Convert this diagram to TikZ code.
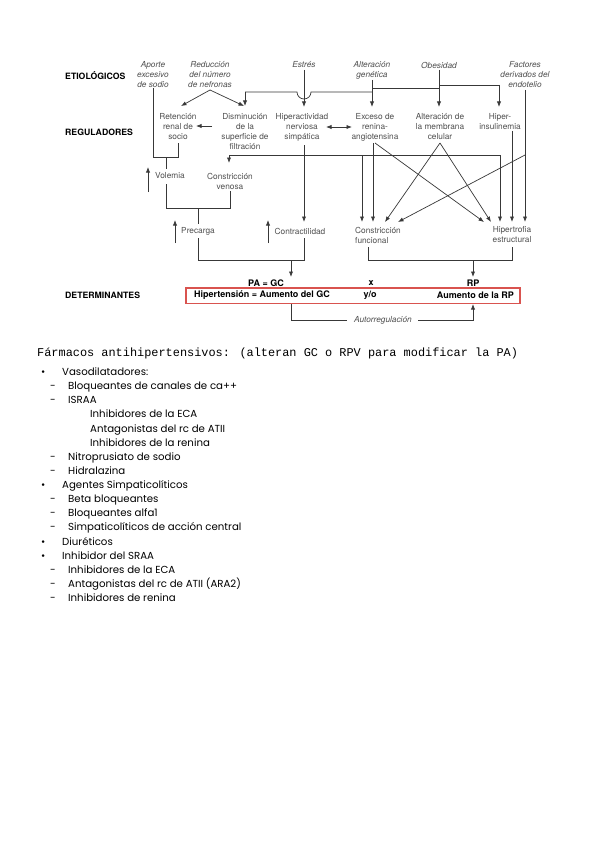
\documentclass[tikz,border=0pt]{standalone}
\usepackage{fontspec}
\setmainfont{TeX Gyre Heros}
\newfontfamily\listfont{Poppins}
\newfontfamily\monofont{Liberation Mono}
\usetikzlibrary{arrows.meta}
\definecolor{txtgray}{HTML}{505050}
\definecolor{linegray}{HTML}{383838}
\definecolor{boxred}{HTML}{D9534F}
\begin{document}
\begin{tikzpicture}[x=1pt,y=-1pt,
  lbl/.style={font=\fontsize{8.3}{10}\selectfont, text=txtgray, align=center, inner sep=0pt},
  eti/.style={font=\fontsize{8.3}{10}\selectfont\itshape, text=txtgray, align=center, inner sep=0pt},
  head/.style={font=\fontsize{8.7}{10}\selectfont\bfseries, anchor=west, inner sep=0pt},
  det/.style={font=\fontsize{9}{10}\selectfont\bfseries, inner sep=0pt},
  ln/.style={draw=linegray, line width=0.7pt},
  arr/.style={ln, -{Latex[length=5.5pt,width=4.2pt]}},
  darr/.style={ln, {Latex[length=5.5pt,width=4.2pt]}-{Latex[length=5.5pt,width=4.2pt]}},
  li/.style={font=\listfont\fontsize{10.2}{12}\selectfont, anchor=west, inner sep=0pt, text height=7.5pt, text depth=2.5pt}
]
\fill[white] (0,0) rectangle (599,848);
\useasboundingbox (0,0) rectangle (599,848);

% headings
\node[head] (hEt) at (65,76) {ETIOLÓGICOS};
\node[head] (hReg) at (65,132) {REGULADORES};
\node[head] (hDet) at (65,295) {DETERMINANTES};

% etiological
\node[eti] (aporte) at (153,75) {Aporte\\excesivo\\de sodio};
\node[eti] (reduc) at (210,75) {Reducción\\del número\\de nefronas};
\node[eti] (estres) at (304,65) {Estrés};
\node[eti] (altgen) at (372,70) {Alteración\\genética};
\node[eti] (obes) at (439,65) {Obesidad};
\node[eti] (endot) at (525,75) {Factores\\derivados del\\endotelio};

% regulators
\node[lbl] (ret) at (178,127) {Retención\\renal de\\socio};
\node[lbl] (dism) at (245,132) {Disminución\\de la\\superficie de\\filtración};
\node[lbl] (hiper) at (302,127) {Hiperactividad\\nerviosa\\simpática};
\node[lbl] (exceso) at (375,127) {Exceso de\\renina-\\angiotensina};
\node[lbl] (altmem) at (440,127) {Alteración de\\la membrana\\celular};
\node[lbl] (hins) at (500,122) {Hiper-\\insulinemia};

% row 3 / 4
\node[lbl] (vol) at (170,176) {Volemia};
\node[lbl] (cven) at (230,181) {Constricción\\venosa};
\node[lbl] (prec) at (198,231) {Precarga};
\node[lbl] (contr) at (300,231) {Contractilidad};
\node[lbl, align=left, anchor=west] (cfun) at (355,235) {Constricción\\funcional};
\node[lbl] (hipt) at (512,235) {Hipertrofia\\estructural};

% determinants
\node[det] (pagc) at (266,283) {PA = GC};
\node[det] (xx) at (371,283) {x};
\node[det] (rp) at (473,283) {RP};
\draw[draw=boxred, line width=1.1pt] (186,288) rectangle (520,303.5);
\node[det, anchor=west] (hta) at (194,295.5) {Hipertensión = Aumento del GC};
\node[det] (yo) at (370,295.5) {y/o};
\node[det, anchor=east] (arp) at (514,295.5) {Aumento de la RP};
\node[eti] (autor) at (383,320) {Autorregulación};

% coordinates
\coordinate (aptop) at (153,88);
\coordinate (j1) at (153,157);
\coordinate (j2) at (178,157);
\coordinate (j3) at (166,157);
\coordinate (rdsplit) at (210,90);
\coordinate (gj) at (372,92);

% etiological -> regulators
\draw[ln] (aptop) -- (j1) -- (j2) -- (178,143);
\draw[ln] (j3) -- (166,169);
\draw[arr] (rdsplit) -- (181,106);
\draw[arr] (rdsplit) -- (244,106);
\draw[arr] (304,70) -- (304,107);
\draw[arr] (372,80) -- (372,107);
\draw[ln] (372,88) -- (439,88);
\draw[ln] (gj) -- (311,92) arc[start angle=0, end angle=180, radius=7] -- (245,92);
\draw[arr] (245,92) -- (245,106);
\draw[arr] (439,70) -- (439,107);
\draw[ln] (439,85) -- (499,85);
\draw[arr] (499,85) -- (499,107);
\draw[arr] (525,90) -- (525,222);
\draw[arr] (525,155) -- (398,222);

% regulators interactions
\draw[arr] (212,126) -- (196,126);
\draw[darr] (326,127) -- (352,127);

% regulators -> row 3/4
\draw[arr] (304,145) -- (304,222);
\draw[ln] (229,155) -- (500,155);
\draw[arr] (229,155) -- (229,163);
\draw[arr] (362,155) -- (362,222);
\draw[arr] (500,155) -- (500,222);
\draw[arr] (373,143) -- (373,222);
\draw[arr] (375,143) -- (484,222);
\draw[arr] (440,143) -- (385,222);
\draw[arr] (440,143) -- (491,222);
\draw[arr] (512,131) -- (512,222);

% up markers
\draw[arr] (148,192) -- (148,167);
\draw[arr] (175,243) -- (175,220);
\draw[arr] (268,243) -- (268,220);

% merges
\draw[ln] (166,184) -- (166,208) -- (230,208) -- (230,191);
\draw[ln] (198,208) -- (198,224);
\draw[ln] (198,238) -- (198,260) -- (304,260) -- (304,238);
\draw[arr] (291,260) -- (291,277);
\draw[ln] (368,247) -- (368,260) -- (512,260) -- (512,247);
\draw[arr] (473,260) -- (473,277);

% autoregulation
\draw[ln] (291,304) -- (291,320) -- (347,320);
\draw[arr] (418,320) -- (473,320) -- (473,304);

% lower text
\node[font=\monofont\fontsize{11.9}{14}\selectfont, anchor=west, inner sep=0pt] (title) at (37,353) {Fármacos antihipertensivos: (alteran GC o RPV para modificar la PA)};

\foreach \t/\k [count=\i from 0] in {
  Vasodilatadores:/b,
  Bloqueantes de canales de ca++/d,
  ISRAA/d,
  Inhibidores de la ECA/n,
  Antagonistas del rc de ATII/n,
  Inhibidores de la renina/n,
  Nitroprusiato de sodio/d,
  Hidralazina/d,
  Agentes Simpaticolíticos/b,
  Beta bloqueantes/d,
  Bloqueantes alfa1/d,
  Simpaticolíticos de acción central/d,
  Diuréticos/b,
  Inhibidor del SRAA/b,
  Inhibidores de la ECA/d,
  Antagonistas del rc de ATII (ARA2)/d,
  Inhibidores de renina/d} {
  \pgfmathsetmacro{\yy}{373+14.125*\i}
  \if\k b
    \node[li] (m\i) at (41,\yy) {•};
    \node[li] (t\i) at (62,\yy) {\t};
  \fi
  \if\k d
    \node[li] (m\i) at (50,\yy) {-};
    \node[li] (t\i) at (68,\yy) {\t};
  \fi
  \if\k n
    \node[li] (t\i) at (90,\yy) {\t};
  \fi
}
\end{tikzpicture}
\end{document}
